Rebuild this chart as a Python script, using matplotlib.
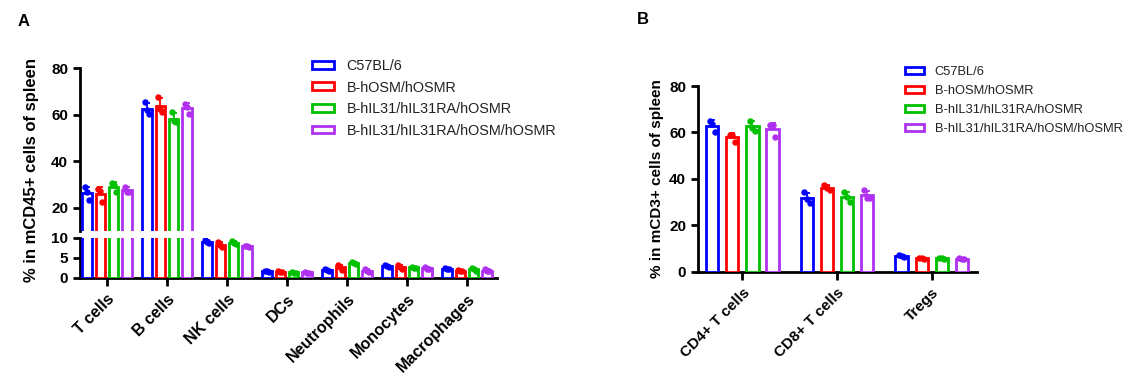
import matplotlib
matplotlib.use("Agg")
import matplotlib.pyplot as plt
import numpy as np
from matplotlib.patches import Patch

plt.rcParams['font.family'] = ['Liberation Sans', 'DejaVu Sans']

groups = ['C57BL/6', 'B-hOSM/hOSMR', 'B-hIL31/hIL31RA/hOSMR', 'B-hIL31/hIL31RA/hOSM/hOSMR']
colors = ['#0000FF', '#FF0000', '#00C000', '#B030F0']

# panel A: % in mCD45+ cells, three mice per group
cats_a = ['T cells', 'B cells', 'NK cells', 'DCs', 'Neutrophils', 'Monocytes', 'Macrophages']
a_c57 = [[28.7, 26.6, 23.4], [65.2, 61.9, 60.2], [9.5, 8.8, 8.7], [1.8, 1.6, 1.4],
         [2.2, 1.9, 1.8], [3.2, 2.9, 2.8], [2.5, 2.3, 2.1]]
a_osm = [[28.0, 27.3, 22.3], [67.6, 62.6, 61.2], [8.9, 8.2, 7.6], [1.7, 1.5, 1.4],
         [3.3, 2.6, 2.0], [3.3, 2.6, 2.1], [1.9, 1.7, 1.6]]
a_il31 = [[30.6, 29.7, 26.6], [60.9, 57.3, 56.6], [9.2, 8.7, 8.3], [1.5, 1.3, 1.3],
          [4.0, 3.6, 3.4], [2.8, 2.5, 2.4], [2.5, 2.1, 1.8]]
a_all = [[29.0, 26.6, 26.6], [64.5, 63.3, 60.2], [8.0, 7.8, 7.6], [1.5, 1.3, 1.2],
         [2.1, 1.7, 1.4], [2.6, 2.3, 2.2], [2.1, 1.7, 1.6]]

# panel B: % in mCD3+ cells
cats_b = ['CD4+ T cells', 'CD8+ T cells', 'Tregs']
b_c57 = [[65.0, 63.5, 60.3], [34.2, 31.2, 29.5], [7.2, 6.6, 6.4]]
b_osm = [[58.9, 58.9, 56.0], [37.4, 35.9, 35.2], [6.0, 5.8, 5.6]]
b_il31 = [[65.0, 62.1, 60.6], [34.5, 32.1, 30.2], [6.0, 5.8, 5.6]]
b_all = [[63.0, 63.0, 58.2], [35.2, 31.9, 31.6], [5.8, 5.5, 5.3]]


def draw_bars(ax, data, pitch, width, ms=3.6, lo=None, hi=None):
    for gi, (vals, col) in enumerate(zip(data, colors)):
        vals = np.array(vals)
        x = np.arange(len(vals)) + (gi - 1.5) * pitch
        mean = vals.mean(axis=1)
        sd = vals.std(axis=1, ddof=1)
        keep = np.ones(len(mean), bool)
        if lo is not None:
            keep &= mean > lo
        if hi is not None:
            keep &= mean < hi
        ax.errorbar(x[keep], mean[keep], yerr=[np.zeros(keep.sum()), sd[keep]], fmt='none',
                    ecolor=col, elinewidth=1.3, capsize=2.5, capthick=1.3, zorder=2)
        ax.bar(x, mean, width=width, facecolor='white', edgecolor=col, linewidth=2, zorder=3)
        for j in range(vals.shape[1]):
            v = vals[:, j]
            m = np.ones(len(v), bool)
            if lo is not None:
                m &= v > lo
            if hi is not None:
                m &= v < hi
            ax.plot((x + (j - 1) * width * 0.22)[m], v[m], 'o', color=col, ms=ms, zorder=4)


def style(ax):
    for s in ['top', 'right']:
        ax.spines[s].set_visible(False)
    for s in ['left', 'bottom']:
        ax.spines[s].set_linewidth(2)
    ax.tick_params(width=2, length=5, labelsize=11)


fig = plt.figure(figsize=(11.33, 3.85), dpi=100)
W, H = 1133, 385

# ---- panel A (broken y axis)
ax_top = fig.add_axes([80 / W, 1 - 231 / H, 417 / W, 163 / H])
ax_bot = fig.add_axes([80 / W, 1 - 277.7 / H, 417 / W, 40 / H])
data_a = [a_c57, a_osm, a_il31, a_all]
draw_bars(ax_top, data_a, 0.222, 0.155, lo=10)
draw_bars(ax_bot, data_a, 0.222, 0.155, hi=10)
for ax in (ax_top, ax_bot):
    ax.set_xlim(-0.45, 6.5)
    style(ax)
ax_top.set_ylim(10, 80)
ax_top.set_yticks([20, 40, 60, 80])
ax_top.spines['bottom'].set_visible(False)
ax_top.set_xticks([])
ax_bot.set_ylim(0, 10)
ax_bot.set_yticks([0, 5, 10])
ax_bot.set_xticks(range(len(cats_a)))
ax_bot.set_xticklabels(cats_a, rotation=45, ha='right', rotation_mode='anchor',
                       fontweight='bold', fontsize=11.5)
ax_bot.tick_params(axis='x', length=6, pad=4)
for lab in ax_top.get_yticklabels() + ax_bot.get_yticklabels():
    lab.set_fontweight('bold')
fig.text(32 / W, 1 - 170 / H, '% in mCD45+ cells of spleen', rotation=90, fontsize=12,
         fontweight='bold', ha='center', va='center')

# ---- panel B
ax_b = fig.add_axes([698 / W, 1 - 271.7 / H, 279 / W, 185.7 / H])
draw_bars(ax_b, [b_c57, b_osm, b_il31, b_all], 0.212, 0.128)
ax_b.set_xlim(-0.47, 2.48)
ax_b.set_ylim(0, 80)
ax_b.set_yticks([0, 20, 40, 60, 80])
ax_b.set_xticks(range(len(cats_b)))
ax_b.set_xticklabels(cats_b, rotation=45, ha='right', rotation_mode='anchor',
                     fontweight='bold', fontsize=11)
style(ax_b)
ax_b.tick_params(axis='x', length=6, pad=4)
for lab in ax_b.get_yticklabels():
    lab.set_fontweight('bold')
ax_b.set_ylabel('% in mCD3+ cells of spleen', fontsize=11, fontweight='bold', labelpad=4)

# legends
handles = [Patch(facecolor='white', edgecolor=c, linewidth=2) for c in colors]
fig.legend(handles, groups, loc='upper left', bbox_to_anchor=(312 / W, 1 - 59 / H),
           frameon=False, fontsize=10.4, handlelength=1.5, handleheight=0.45,
           handletextpad=0.9, labelspacing=0.52, borderpad=0, borderaxespad=0,
           labelcolor='#222222')
fig.legend(handles, groups, loc='upper left', bbox_to_anchor=(905 / W, 1 - 66 / H),
           frameon=False, fontsize=9.3, handlelength=1.45, handleheight=0.45,
           handletextpad=0.85, labelspacing=0.55, borderpad=0, borderaxespad=0,
           labelcolor='#222222')

fig.text(18 / W, 1 - 22 / H, 'A', fontsize=12, fontweight='bold', va='center')
fig.text(637 / W, 1 - 20 / H, 'B', fontsize=12, fontweight='bold', va='center')

fig.savefig('out.png', dpi=100)
